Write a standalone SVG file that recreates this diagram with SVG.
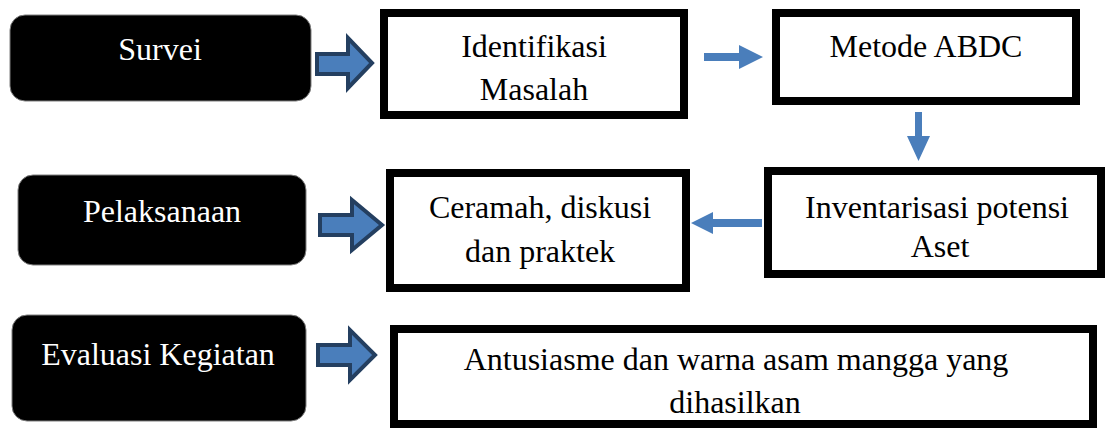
<svg xmlns="http://www.w3.org/2000/svg" width="1110" height="432" viewBox="0 0 1110 432">
<style>
.blk{fill:#000;stroke:#7f7f7f;stroke-width:1}
.box{fill:#fff;stroke:#000;stroke-width:8}
.t{font-family:"Liberation Serif","Times New Roman",serif;font-size:32px;text-anchor:middle;fill:#000}
.w{fill:#fff}
.ba{fill:#4a7ebb;stroke:#243f60;stroke-width:4;stroke-linejoin:miter}
.ar{fill:#4a7ebb}
</style>
<rect width="1110" height="432" fill="#fff"/>
<g id="survei"><rect class="blk" x="10" y="15" width="301" height="86" rx="15"/><text class="t w" x="160" y="60">Survei</text></g>
<g id="pelaksanaan"><rect class="blk" x="18" y="175" width="288" height="90" rx="15"/><text class="t w" x="162" y="222">Pelaksanaan</text></g>
<g id="evaluasi"><rect class="blk" x="12" y="315" width="294" height="106" rx="15"/><text class="t w" x="158" y="365">Evaluasi Kegiatan</text></g>
<g id="identifikasi"><rect class="box" x="384" y="13" width="300" height="102"/><text class="t" x="534" y="57">Identifikasi</text><text class="t" x="534" y="100">Masalah</text></g>
<g id="metode"><rect class="box" x="776" y="13" width="300" height="88"/><text class="t" x="926" y="57">Metode ABDC</text></g>
<g id="inventarisasi"><rect class="box" x="768" y="171" width="333" height="103"/><text class="t" x="937" y="218">Inventarisasi potensi</text><text class="t" x="940" y="257">Aset</text></g>
<g id="ceramah"><rect class="box" x="390" y="173" width="296" height="115"/><text class="t" x="540" y="218">Ceramah, diskusi</text><text class="t" x="540" y="262">dan praktek</text></g>
<g id="antusiasme"><rect class="box" x="394" y="329" width="699" height="95"/><text class="t" x="736" y="370">Antusiasme dan warna asam mangga yang</text><text class="t" x="735" y="413">dihasilkan</text></g>
<g id="connectors">
<polygon class="ba" points="317,54 348,54 348,38 372,63 348,88 348,74 317,74"/>
<polygon class="ba" points="320,215 352,215 352,200 382,225 352,250 352,235 320,235"/>
<polygon class="ba" points="318,345 350,345 350,330 375,355 350,380 350,365 318,365"/>
<polygon class="ar" points="704,53 739,53 739,45 763,57 739,69 739,61 704,61"/>
<polygon class="ar" points="915,112 922,112 922,136 930,136 918.5,161 907,136 915,136"/>
<polygon class="ar" points="762,219 713,219 713,212 691,223 713,234 713,227 762,227"/>
</g>
</svg>
